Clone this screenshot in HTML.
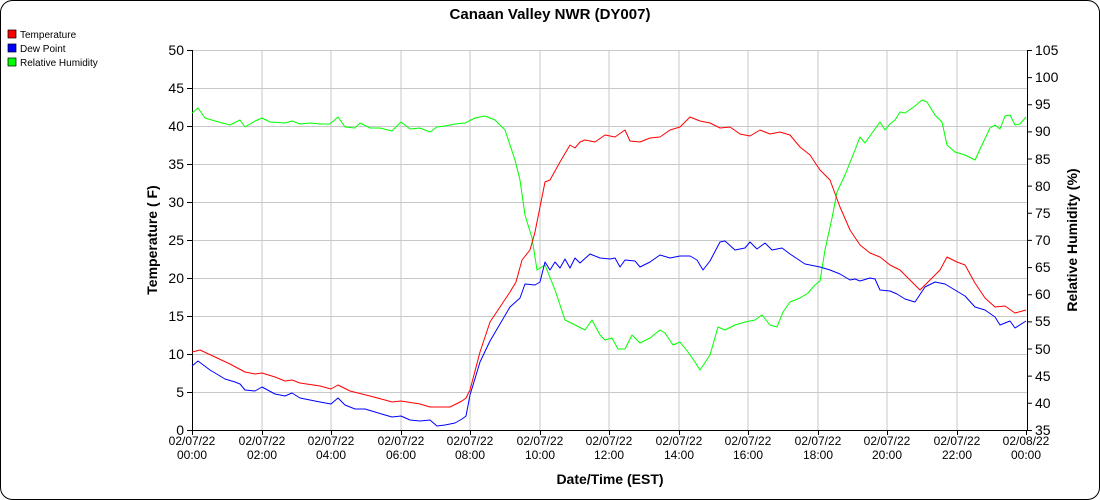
<!DOCTYPE html>
<html><head><style>body{margin:0;background:#fff}svg{display:block;font-family:"Liberation Sans",sans-serif}</style></head><body>
<svg width="1100" height="500" viewBox="0 0 1100 500" xmlns="http://www.w3.org/2000/svg">
<rect x="0.5" y="0.5" width="1099" height="499" rx="12" fill="#fff" stroke="#000"/>
<text x="550" y="19" text-anchor="middle" font-size="15" font-weight="bold">Canaan Valley NWR (DY007)</text>
<g font-size="10">
<rect x="8" y="30" width="8" height="8" fill="#f00" stroke="#000" stroke-width="0.7"/><text x="20" y="38">Temperature</text>
<rect x="8" y="44" width="8" height="8" fill="#00f" stroke="#000" stroke-width="0.7"/><text x="20" y="52">Dew Point</text>
<rect x="8" y="58" width="8" height="8" fill="#0f0" stroke="#000" stroke-width="0.7"/><text x="20" y="66">Relative Humidity</text>
</g>
<g stroke="#c8c8c8" stroke-width="1">
<line x1="192" y1="50.5" x2="1027" y2="50.5"/><line x1="192" y1="88.5" x2="1027" y2="88.5"/><line x1="192" y1="126.5" x2="1027" y2="126.5"/><line x1="192" y1="164.5" x2="1027" y2="164.5"/><line x1="192" y1="202.5" x2="1027" y2="202.5"/><line x1="192" y1="240.5" x2="1027" y2="240.5"/><line x1="192" y1="278.5" x2="1027" y2="278.5"/><line x1="192" y1="316.5" x2="1027" y2="316.5"/><line x1="192" y1="354.5" x2="1027" y2="354.5"/><line x1="192" y1="392.5" x2="1027" y2="392.5"/>
<line x1="262" y1="50" x2="262" y2="430"/><line x1="331" y1="50" x2="331" y2="430"/><line x1="401" y1="50" x2="401" y2="430"/><line x1="470" y1="50" x2="470" y2="430"/><line x1="540" y1="50" x2="540" y2="430"/><line x1="609" y1="50" x2="609" y2="430"/><line x1="679" y1="50" x2="679" y2="430"/><line x1="748" y1="50" x2="748" y2="430"/><line x1="818" y1="50" x2="818" y2="430"/><line x1="887" y1="50" x2="887" y2="430"/><line x1="957" y1="50" x2="957" y2="430"/>
</g>
<g stroke="#000" stroke-width="1" fill="none">
<path d="M192.5 50V430.5H1027.5V50"/>
<path d="M187 50.5h5M187 88.5h5M187 126.5h5M187 164.5h5M187 202.5h5M187 240.5h5M187 278.5h5M187 316.5h5M187 354.5h5M187 392.5h5M187 430.5h5"/>
<path d="M1027 50.5h5M1027 77.6h5M1027 104.7h5M1027 131.9h5M1027 159h5M1027 186.1h5M1027 213.3h5M1027 240.4h5M1027 267.6h5M1027 294.7h5M1027 321.9h5M1027 349h5M1027 376.1h5M1027 403.3h5M1027 430.5h5"/>
<path d="M192.5 430v5M262.5 430v5M331.5 430v5M401.5 430v5M470.5 430v5M540.5 430v5M609.5 430v5M679.5 430v5M748.5 430v5M818.5 430v5M887.5 430v5M957.5 430v5M1026.5 430v5"/>
</g>
<g font-size="14" text-anchor="end">
<text x="184" y="55">50</text><text x="184" y="93">45</text><text x="184" y="131">40</text><text x="184" y="169">35</text><text x="184" y="207">30</text><text x="184" y="245">25</text><text x="184" y="283">20</text><text x="184" y="321">15</text><text x="184" y="359">10</text><text x="184" y="397">5</text><text x="184" y="435">0</text>
</g>
<g font-size="14">
<text x="1035" y="55">105</text><text x="1035" y="82">100</text><text x="1035" y="109">95</text><text x="1035" y="136">90</text><text x="1035" y="164">85</text><text x="1035" y="191">80</text><text x="1035" y="218">75</text><text x="1035" y="245">70</text><text x="1035" y="272">65</text><text x="1035" y="299">60</text><text x="1035" y="326">55</text><text x="1035" y="354">50</text><text x="1035" y="381">45</text><text x="1035" y="408">40</text><text x="1035" y="435">35</text>
</g>
<g font-size="12" text-anchor="middle">
<text x="192" y="445">02/07/22</text><text x="192" y="459">00:00</text>
<text x="262" y="445">02/07/22</text><text x="262" y="459">02:00</text>
<text x="331" y="445">02/07/22</text><text x="331" y="459">04:00</text>
<text x="401" y="445">02/07/22</text><text x="401" y="459">06:00</text>
<text x="470" y="445">02/07/22</text><text x="470" y="459">08:00</text>
<text x="540" y="445">02/07/22</text><text x="540" y="459">10:00</text>
<text x="609" y="445">02/07/22</text><text x="609" y="459">12:00</text>
<text x="679" y="445">02/07/22</text><text x="679" y="459">14:00</text>
<text x="748" y="445">02/07/22</text><text x="748" y="459">16:00</text>
<text x="818" y="445">02/07/22</text><text x="818" y="459">18:00</text>
<text x="887" y="445">02/07/22</text><text x="887" y="459">20:00</text>
<text x="957" y="445">02/07/22</text><text x="957" y="459">22:00</text>
<text x="1026" y="445">02/08/22</text><text x="1026" y="459">00:00</text>
</g>
<text x="610" y="484" text-anchor="middle" font-size="14" font-weight="bold">Date/Time (EST)</text>
<text transform="translate(157,240) rotate(-90)" text-anchor="middle" font-size="14" font-weight="bold">Temperature ( F)</text>
<text transform="translate(1077,240) rotate(-90)" text-anchor="middle" font-size="14" font-weight="bold">Relative Humidity (%)</text>
<g fill="none" stroke-width="1" stroke-linejoin="round">
<polyline stroke="#0f0" points="192,113 198,108 205,118 215,121 230,125 240,120 245,127 255,121 262,118 270,122 285,123 292,121 300,124 310,123 320,124 330,124 338,117 345,127 355,128 360,123 370,128 380,128 392,131 401,122 410,129 420,128 430,132 437,127 445,126 455,124 465,123 475,118 485,116 495,120 505,130 515,160 520,180 525,215 532,238 537,270 545,265 555,290 565,320 575,325 585,330 592,320 600,335 605,340 612,338 618,349 625,349 632,335 640,343 650,338 660,330 665,333 673,345 680,342 688,352 695,362 700,370 710,355 718,327 725,330 735,325 745,322 755,320 762,315 770,325 777,327 783,312 790,302 800,298 808,293 815,285 820,281 825,250 832,218 837,192 845,175 855,150 860,137 865,143 872,133 880,122 885,130 890,124 895,120 900,112 905,113 915,106 922,100 927,102 935,115 942,122 947,145 955,152 965,155 975,160 982,145 990,128 995,125 1000,129 1005,116 1010,115 1015,125 1020,124 1026,117"/>
<polyline stroke="#00f" points="192,366 198,361 210,370 225,379 235,382 240,384 245,390 255,391 262,387 275,394 285,396 292,393 300,398 320,402 331,404 338,398 345,405 355,409 365,409 375,412 385,415 392,417 401,416 410,420 420,421 430,420 437,426 445,425 455,423 462,419 466,416 470,395 480,362 490,341 500,324 510,307 520,298 525,284 535,285 540,282 545,262 550,270 555,262 560,268 565,259 570,268 575,258 580,263 590,254 600,258 610,259 615,258 620,267 625,260 635,261 640,267 650,262 660,255 670,258 680,256 690,256 697,260 703,270 710,261 720,242 725,241 735,250 745,248 750,242 757,249 765,243 772,250 782,248 790,254 805,264 820,267 830,270 840,274 850,280 855,279 860,281 870,278 875,279 880,290 890,291 897,294 905,299 915,302 925,287 935,282 945,284 955,290 965,296 975,307 985,310 995,317 1000,325 1010,321 1015,328 1026,321"/>
<polyline stroke="#f00" points="192,352 200,350 215,357 230,364 245,372 255,374 262,373 275,377 285,381 292,380 300,383 320,386 331,389 338,385 350,391 370,396 385,400 392,402 401,401 420,404 430,407 450,407 462,401 466,398 470,390 480,352 490,322 500,307 510,292 516,282 522,260 530,250 535,232 545,182 550,180 560,162 570,145 575,148 580,142 585,140 595,142 605,135 615,137 625,130 630,141 640,142 650,138 660,137 670,130 680,127 690,117 700,121 710,123 720,128 730,127 740,134 750,136 760,130 770,134 780,132 790,135 800,147 810,155 820,170 830,180 840,207 850,230 860,245 870,253 880,257 890,265 900,270 910,280 920,290 930,280 940,270 947,257 957,262 965,265 975,283 985,298 995,307 1005,306 1015,313 1026,310"/>
</g>
</svg>
</body></html>
